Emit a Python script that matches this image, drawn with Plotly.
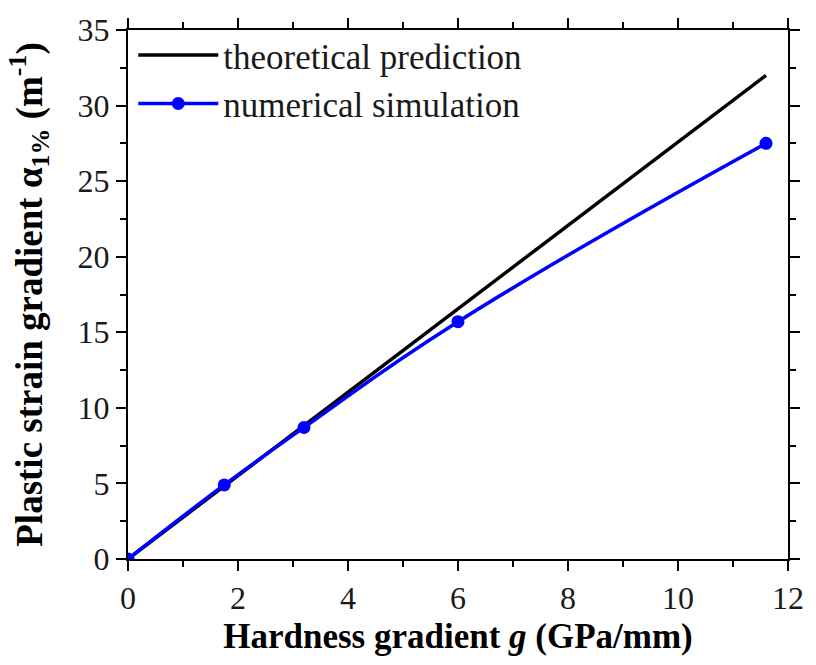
import plotly.graph_objects as go

theory_x = [0, 11.6]
theory_y = [0, 32.0]
sim_x = [0, 1.75, 3.2, 6.0, 11.6]
sim_y = [0, 4.9, 8.7, 15.7, 27.5]

FONT = "Liberation Serif"

fig = go.Figure()
fig.add_trace(go.Scatter(x=theory_x, y=theory_y, mode="lines",
                         name="theoretical prediction",
                         line=dict(color="black", width=3.5)))
fig.add_trace(go.Scatter(x=sim_x, y=sim_y, mode="lines+markers",
                         name="numerical simulation",
                         line=dict(color="#0000ff", width=3.5, shape="spline", smoothing=1.3),
                         marker=dict(color="#0000ff", size=13)))

axis_common = dict(showline=True, linecolor="black", linewidth=2, mirror="ticks",
                   ticks="outside", ticklen=10, tickwidth=2, tickcolor="black",
                   showgrid=False, zeroline=False,
                   tickfont=dict(family=FONT, size=32, color="#1a1a1a"))

fig.update_xaxes(range=[0, 12], tick0=0, dtick=2,
                 minor=dict(dtick=1, ticks="outside", ticklen=6, tickwidth=2, tickcolor="black"),
                 title=dict(text="<b>Hardness gradient <i>g</i> (GPa/mm)</b>",
                            font=dict(family=FONT, size=35, color="black"), standoff=8),
                 **axis_common)
fig.update_yaxes(range=[0, 35], tick0=0, dtick=5,
                 minor=dict(dtick=2.5, ticks="outside", ticklen=6, tickwidth=2, tickcolor="black"),
                 title=dict(text="<b>Plastic strain gradient α<sub>1%</sub> (m<sup>-1</sup>)</b>",
                            font=dict(family=FONT, size=37, color="black"), standoff=24),
                 **axis_common)

fig.update_layout(
    width=816, height=665,
    margin=dict(l=128, r=17, t=18, b=106),
    plot_bgcolor="white", paper_bgcolor="white",
    legend=dict(x=0.008, y=1.008, xanchor="left", yanchor="top",
                font=dict(family=FONT, size=35, color="#1a1a1a"),
                bgcolor="rgba(0,0,0,0)", itemwidth=80, tracegroupgap=0),
    showlegend=True,
)

fig.write_html("out.html")
